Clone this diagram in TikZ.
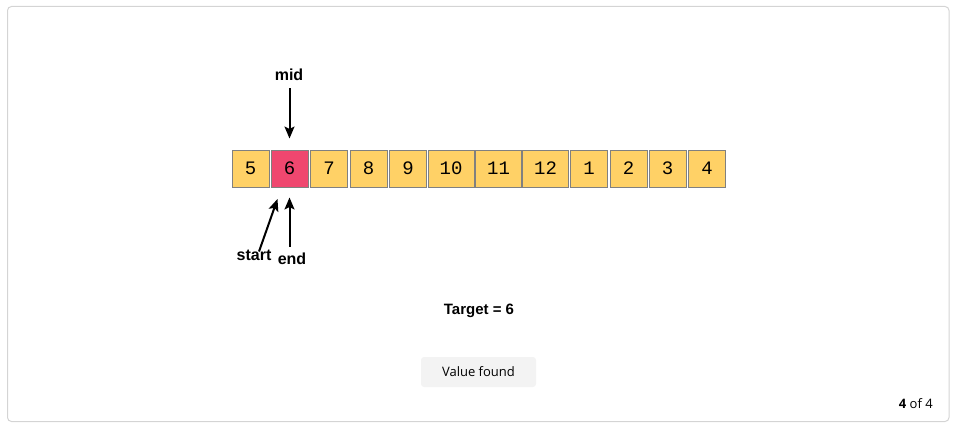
\documentclass[tikz,border=0pt]{standalone}
\usepackage{fontspec}
\setmainfont{Liberation Sans}
\newfontfamily\cellfont{Liberation Mono}
\newfontfamily\uifont{Open Sans}
\usetikzlibrary{arrows.meta}

\definecolor{cellyellow}{HTML}{FFD166}
\definecolor{cellred}{HTML}{EF476F}
\definecolor{cellborder}{HTML}{808080}
\definecolor{framegray}{HTML}{D4D4D4}
\definecolor{buttongray}{HTML}{F3F3F3}

\tikzset{
    cell/.style={draw=cellborder, fill=cellyellow, line width=1pt, inner sep=0pt,
        minimum width=37pt, minimum height=37pt, font=\cellfont\fontsize{19}{19}\selectfont},
    widecell/.style={cell, minimum width=46pt},
    ptrlabel/.style={font=\bfseries\fontsize{16}{16}\selectfont, inner sep=1pt},
    ptrarrow/.style={line width=2pt, -{Stealth[length=12pt, width=10pt, inset=2.5pt]}}
}

\begin{document}
\begin{tikzpicture}[x=1pt, y=-1pt]
        \useasboundingbox (0,0) rectangle (956,428);
        \draw[framegray, line width=1pt, rounded corners=4pt] (7.5,6.5) rectangle (949,421.5);

        % the array
        \node[cell] (c1) at (250.5,168.5) {5};
        \node[cell, fill=cellred] (c2) at (289.5,168.5) {6};
        \node[cell] (c3) at (329,168.5) {7};
        \node[cell] (c4) at (368.5,168.5) {8};
        \node[cell] (c5) at (408,168.5) {9};
        \node[widecell] (c6) at (451,168.5) {10};
        \node[widecell] (c7) at (498.5,168.5) {11};
        \node[widecell] (c8) at (545.5,168.5) {12};
        \node[cell] (c9) at (589,168.5) {1};
        \node[cell] (c10) at (628.5,168.5) {2};
        \node[cell] (c11) at (667.5,168.5) {3};
        \node[cell] (c12) at (707,168.5) {4};

        % pointers
        \node[ptrlabel] (mid) at (289,75) {mid};
        \node[ptrlabel] (start) at (254,255) {start};
        \node[ptrlabel] (end) at (292,259) {end};
        \coordinate (starttip) at (277.5,199);

        \draw[ptrarrow, shorten <=6pt, shorten >=11pt] (mid.south -| c2.north) -- (c2.north);
        \draw[ptrarrow] ([xshift=5pt, yshift=-3pt]start.north) -- (starttip);
        \draw[ptrarrow, shorten <=5pt, shorten >=10pt] (end.north -| c2.south) -- (c2.south);

        \node[font=\bfseries\fontsize{15}{15}\selectfont] (target) at (479,311) {Target = 6};

        % controls
        \node[fill=buttongray, rounded corners=3pt, minimum width=115pt, minimum height=30pt,
            font=\uifont\fontsize{13}{13}\selectfont] (status) at (478.5,372) {Value found};
        \node[anchor=east, font=\uifont\fontsize{13}{13}\selectfont, inner sep=0pt] (page) at (933,404) {\textbf{4} of 4};
    \end{tikzpicture}
\end{document}
